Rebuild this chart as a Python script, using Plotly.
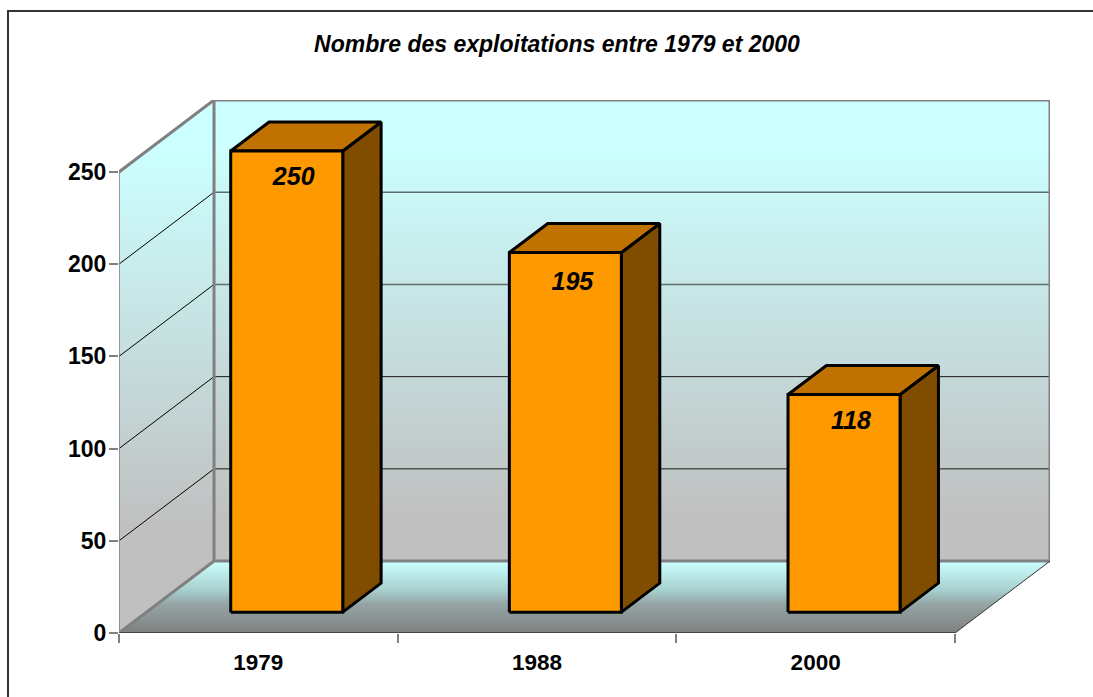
import plotly.graph_objects as go

# Data
categories = ["1979", "1988", "2000"]
exploitations = [250, 195, 118]
value_ticks = [0, 50, 100, 150, 200, 250]
grid_values = [50, 100, 150, 200]
title_text = "Nombre des exploitations entre 1979 et 2000"

# Oblique projection of the 3D box: depth is expressed in axis units
DEPTH_X = 0.341
DEPTH_Y = 39.0
BAR_WIDTH = 0.402
BAR_Z_FRONT = 0.29
BAR_Z_BACK = 0.694
BAR_SHIFT = 0.003
TOP_VALUE = 250
N = len(categories)

# How far each value label sits below the top of its bar, in axis units
LABEL_DROPS = [15, 17, 15.5]

FONT = "Liberation Sans, Arial, sans-serif"
GREY = "#808080"
INK = "#000000"


def project(x, v, z):
    return x + z * DEPTH_X, v + z * DEPTH_Y


def polygon(corners):
    pts = [project(*c) for c in corners]
    pts.append(pts[0])
    return [p[0] for p in pts], [p[1] for p in pts]


fig = go.Figure()


def add_face(corners, color=None, gradient=None, line_color=None, line_width=0):
    xs, ys = polygon(corners)
    kw = dict(fillcolor=color) if color else dict(fillgradient=gradient)
    fig.add_trace(go.Scatter(
        x=xs, y=ys, mode="lines", fill="toself",
        line=dict(color=line_color or "rgba(0,0,0,0)", width=line_width),
        hoverinfo="skip", showlegend=False, cliponaxis=False, **kw))


def add_edge(corners, color, width):
    xs, ys = zip(*[project(*c) for c in corners])
    fig.add_trace(go.Scatter(
        x=list(xs), y=list(ys), mode="lines",
        line=dict(color=color, width=width),
        hoverinfo="skip", showlegend=False, cliponaxis=False))


def vertical(stops):
    return dict(type="vertical", colorscale=stops)


# Walls and floor with their vertical colour ramps (colorscale 0 is the lower edge)
back_ramp = vertical([[0, "#C0C0C0"], [0.1, "#C0C0C0"], [0.9, "#CCFFFF"], [1, "#CCFFFF"]])
side_ramp = vertical([[0, "#C0C0C0"], [0.2, "#C0C0C0"], [0.9, "#CCFFFF"], [1, "#CCFFFF"]])
floor_ramp = vertical([[0, "#808080"], [0.4, "#94A4A4"], [0.6, "#A8D0D0"], [1, "#CCFFFF"]])
add_face([(0, 0, 0), (0, TOP_VALUE, 0), (0, TOP_VALUE, 1), (0, 0, 1)], gradient=side_ramp)
add_face([(0, 0, 1), (0, TOP_VALUE, 1), (N, TOP_VALUE, 1), (N, 0, 1)], gradient=back_ramp)
add_face([(0, 0, 0), (N, 0, 0), (N, 0, 1), (0, 0, 1)], gradient=floor_ramp)

# Gridlines run along the side wall, then across the back wall
for v in grid_values:
    add_edge([(0, v, 0), (0, v, 1)], INK, 1)
    if v >= 150:
        add_edge([(0, v, 1), (N, v, 1)], "#5F6E6E", 1.5)
    else:
        add_edge([(0, v, 1), (N, v, 1)], "#1A1A1A", 1)

# Wall outlines
add_edge([(0, 0, 0), (0, 0, 1), (N, 0, 1), (N, TOP_VALUE, 1), (0, TOP_VALUE, 1), (0, TOP_VALUE, 0)], GREY, 3)
add_edge([(0, 0, 1), (0, TOP_VALUE, 1)], GREY, 3)
add_edge([(0, 0, 0), (0, TOP_VALUE, 0)], GREY, 1.5)
add_edge([(N, 0, 0), (N, 0, 1)], "#333333", 1)
add_edge([(0, 0, 0), (N, 0, 0)], "#333333", 1.5)

# Bars: side, top and front faces
label_x, label_y = [], []
for i, value in enumerate(exploitations):
    left = i + 0.5 - BAR_WIDTH / 2 + BAR_SHIFT
    right = left + BAR_WIDTH
    zf, zb = BAR_Z_FRONT, BAR_Z_BACK
    add_face([(right, 0, zf), (right, value, zf), (right, value, zb), (right, 0, zb)],
             color="#804C00", line_color=INK, line_width=3)
    add_face([(left, value, zf), (right, value, zf), (right, value, zb), (left, value, zb)],
             color="#BF7200", line_color=INK, line_width=3)
    add_face([(left, 0, zf), (right, 0, zf), (right, value, zf), (left, value, zf)],
             color="#FF9900", line_color=INK, line_width=3)
    px, py = project((left + right) / 2 + 0.025, value - LABEL_DROPS[i], zf)
    label_x.append(px)
    label_y.append(py)

# Value labels inside the front faces
fig.add_trace(go.Scatter(
    x=label_x, y=label_y, mode="text",
    text=[str(v) for v in exploitations],
    textfont=dict(family=FONT, size=25, color=INK, weight="bold", style="italic"),
    hoverinfo="skip", showlegend=False, cliponaxis=False))

fig.update_layout(
    width=1093, height=697,
    margin=dict(l=119, r=43, t=100, b=64),
    paper_bgcolor="white", plot_bgcolor="rgba(0,0,0,0)",
    showlegend=False,
    title=dict(
        text=title_text, x=557 / 1093, xanchor="center",
        y=1 - 44 / 697, yanchor="middle",
        font=dict(family=FONT, size=23, color=INK, weight="bold", style="italic")),
    shapes=[dict(
        type="rect", xref="paper", yref="paper",
        x0=-111 / 931, x1=1.1, y0=-0.2, y1=1 + 89 / 533,
        line=dict(color="#333333", width=2), layer="below")],
)
fig.update_xaxes(
    range=[0, N + DEPTH_X], showgrid=False, zeroline=False, showline=False,
    tickmode="array", tickvals=[i + 0.5 for i in range(N)], ticktext=categories,
    ticks="", ticklabelstandoff=13,
    tickfont=dict(family=FONT, size=22.5, color=INK, weight="bold"),
    minor=dict(tickmode="array", tickvals=list(range(N + 1)), ticks="outside",
               ticklen=9, tickcolor=GREY, tickwidth=1.5),
)
fig.update_yaxes(
    range=[0, TOP_VALUE + DEPTH_Y], showgrid=False, zeroline=False, showline=False,
    tickmode="array", tickvals=value_ticks, ticks="outside", ticklen=9,
    tickcolor=GREY, tickwidth=1.5, ticklabelstandoff=-2,
    tickfont=dict(family=FONT, size=23, color=INK, weight="bold"),
)

fig.write_html("out.html")
